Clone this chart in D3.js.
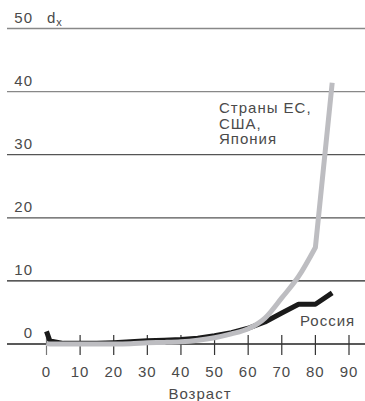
<!DOCTYPE html>
<html><head><meta charset="utf-8">
<script src="https://cdn.jsdelivr.net/npm/d3@7"></script>
<style>body{margin:0;background:#fff}svg{display:block}text{font-family:"Liberation Sans",Arial,sans-serif}</style>
</head><body>
<svg id="c" width="365" height="401"></svg>
<script>
const ages = [0,1,5,10,15,20,25,30,35,40,45,50,55,60,65,70,75,80,85];
const russia = [2.0,0.5,0.1,0.1,0.1,0.2,0.35,0.5,0.6,0.7,0.9,1.3,1.8,2.5,3.5,4.9,6.3,6.3,8.1];
const euUsaJapan = [0.1,0.0,0.0,0.0,0.0,0.0,0.05,0.2,0.25,0.35,0.6,1.0,1.6,2.4,4.1,7.3,10.7,15.3,41.4];
const yTicks = [0,10,20,30,40,50];
const xTicks = [0,10,20,30,40,50,60,70,80,90];

const svg = d3.select("#c");
const x = d3.scaleLinear().domain([0,90]).range([46.5,349]);
const y = d3.scaleLinear().domain([0,50]).range([344,28.5]);

// gridlines
svg.append("g").selectAll("line").data(yTicks).join("line")
  .attr("x1",7).attr("x2",365).attr("y1",d=>y(d)).attr("y2",d=>y(d))
  .attr("stroke",d=>d>=40?"#888":(d>=20?"#555":"#222")).attr("stroke-width",1.3);

// y labels
svg.append("g").selectAll("text").data(yTicks).join("text")
  .attr("x",33).attr("y",d=>y(d)-6).attr("text-anchor","end")
  .attr("font-size",15).attr("letter-spacing",1).attr("fill","#4a4a4a").text(d=>d);
const dl = svg.append("text").attr("x",47).attr("y",y(50)-6).attr("font-size",15).attr("fill","#4a4a4a");
dl.append("tspan").text("d");
dl.append("tspan").attr("font-size",11).attr("dy",3).attr("dx",1).text("x");

// x ticks
svg.append("g").selectAll("line").data(xTicks).join("line")
  .attr("x1",d=>x(d)).attr("x2",d=>x(d)).attr("y1",335).attr("y2",355)
  .attr("stroke",d=>d===0?"#777":"#333").attr("stroke-width",1.2);
svg.append("g").selectAll("text").data(xTicks).join("text")
  .attr("x",d=>x(d)).attr("y",377).attr("text-anchor","middle")
  .attr("font-size",15).attr("letter-spacing",1).attr("fill","#4a4a4a").text(d=>d);
svg.append("text").attr("x",200).attr("y",399).attr("text-anchor","middle")
  .attr("font-size",15).attr("letter-spacing",1).attr("fill","#4a4a4a").text("Возраст");

const line = d3.line().x((d,i)=>x(ages[i])).y(d=>y(d));
svg.append("path").datum(russia).attr("d",line).attr("fill","none")
  .attr("stroke","#1a1a1a").attr("stroke-width",5).attr("stroke-linejoin","round");

// smooth curve up to 80, then straight to the last point
const n = ages.length;
const smooth = d3.line().x(d=>x(d[0])).y(d=>y(d[1])).curve(d3.curveMonotoneX);
const pts = ages.map((a,i)=>[a,euUsaJapan[i]]);
const dPath = smooth(pts.slice(0,n-1)) + "L" + x(pts[n-1][0]) + "," + y(pts[n-1][1]);
svg.append("path").attr("d",dPath).attr("fill","none")
  .attr("stroke","#bdbdc1").attr("stroke-width",5).attr("stroke-linejoin","round");

const lab = svg.append("text").attr("x",219).attr("font-size",15).attr("letter-spacing",1).attr("fill","#4a4a4a");
["Страны ЕС,","США,","Япония"].forEach((t,i)=>lab.append("tspan").attr("x",219).attr("y",113+i*15.5).text(t));
svg.append("text").attr("x",300).attr("y",326).attr("font-size",15).attr("letter-spacing",1).attr("fill","#4a4a4a").text("Россия");
</script>
</body></html>
